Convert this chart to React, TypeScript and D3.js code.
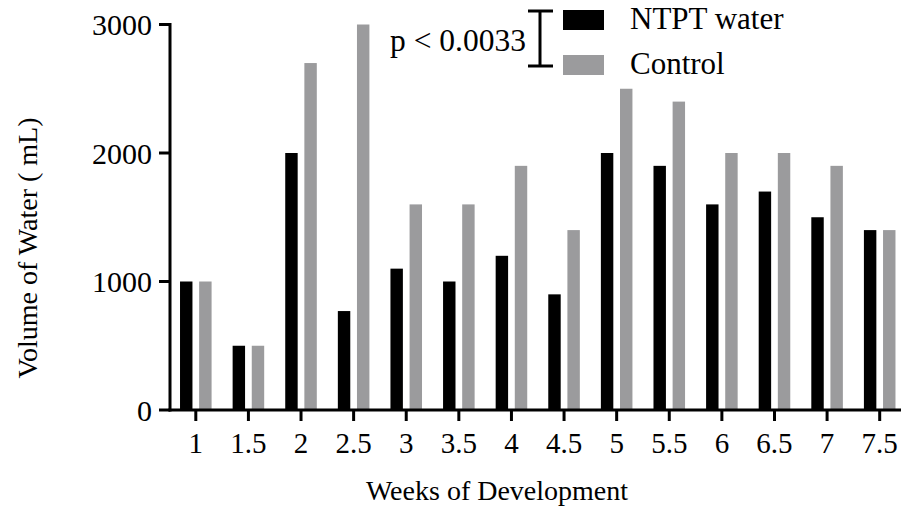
import React from "react";
import * as d3 from "d3";

const weeks = ["1", "1.5", "2", "2.5", "3", "3.5", "4", "4.5", "5", "5.5", "6", "6.5", "7", "7.5"];
const ntptWater = [1000, 500, 2000, 770, 1100, 1000, 1200, 900, 2000, 1900, 1600, 1700, 1500, 1400];
const control = [1000, 500, 2700, 3000, 1600, 1600, 1900, 1400, 2500, 2400, 2000, 2000, 1900, 1400];
const seriesNames = ["NTPT water", "Control"];
const seriesColors = ["#000000", "#9b9b9d"];
const yTicks = [0, 1000, 2000, 3000];

const W = 901;
const H = 521;
const font = "'Liberation Serif', 'Times New Roman', serif";

export default function App() {
  const x = d3.scaleBand<string>().domain(weeks).range([169.5, 906]).paddingInner(0.4).paddingOuter(0.2);
  const inner = d3.scaleBand<string>().domain(seriesNames).range([0, x.bandwidth()]).paddingInner(0.35);
  const y = d3.scaleLinear().domain([0, 3000]).range([410, 24.5]);
  const color = d3.scaleOrdinal<string, string>().domain(seriesNames).range(seriesColors);
  const values = [ntptWater, control];

  const axisX = 170;
  const axisY = y(0);

  return (
    <svg width={W} height={H} style={{ position: "absolute", left: 0, top: 0, background: "#fff" }} fontFamily={font}>
      {/* bars */}
      {weeks.map((w, i) => (
        <g key={w} transform={`translate(${x(w)},0)`}>
          {seriesNames.map((s, j) => (
            <rect key={s} x={inner(s)} y={y(values[j][i])} width={inner.bandwidth()}
              height={axisY - y(values[j][i])} fill={color(s)} />
          ))}
        </g>
      ))}

      {/* y axis */}
      <line x1={axisX} x2={axisX} y1={y(3000) - 1.5} y2={axisY + 1.5} stroke="#000" strokeWidth={3} />
      {yTicks.map(t => (
        <g key={t}>
          <line x1={159} x2={axisX} y1={y(t)} y2={y(t)} stroke="#000" strokeWidth={3} />
          <text x={152} y={y(t)} dy="0.35em" textAnchor="end" fontSize={30}>{t}</text>
        </g>
      ))}

      {/* x axis */}
      <line x1={axisX - 1.5} x2={W} y1={axisY} y2={axisY} stroke="#000" strokeWidth={3} />
      {weeks.map(w => {
        const cx = (x(w) as number) + x.bandwidth() / 2;
        return (
          <g key={w}>
            <line x1={cx} x2={cx} y1={axisY} y2={axisY + 11} stroke="#000" strokeWidth={3} />
            <text x={cx} y={453} textAnchor="middle" fontSize={29}>{w}</text>
          </g>
        );
      })}

      {/* axis titles */}
      <text x={497} y={500} textAnchor="middle" fontSize={28}>Weeks of Development</text>
      <text transform="translate(37,248) rotate(-90)" textAnchor="middle" fontSize={28}>Volume of Water ( mL)</text>

      {/* significance bracket */}
      <line x1={540} x2={540} y1={11} y2={66} stroke="#000" strokeWidth={3} />
      <line x1={528} x2={553} y1={11} y2={11} stroke="#000" strokeWidth={3} />
      <line x1={528} x2={553} y1={66} y2={66} stroke="#000" strokeWidth={3} />
      <text x={526} y={51} textAnchor="end" fontSize={31.5}>p &lt; 0.0033</text>

      {/* legend */}
      {seriesNames.map((s, j) => (
        <g key={s} transform={`translate(563,${j === 0 ? 10 : 55})`}>
          <rect x={0} y={0} width={41} height={20} fill={color(s)} />
          <text x={67} y={19} fontSize={31}>{s}</text>
        </g>
      ))}
    </svg>
  );
}
